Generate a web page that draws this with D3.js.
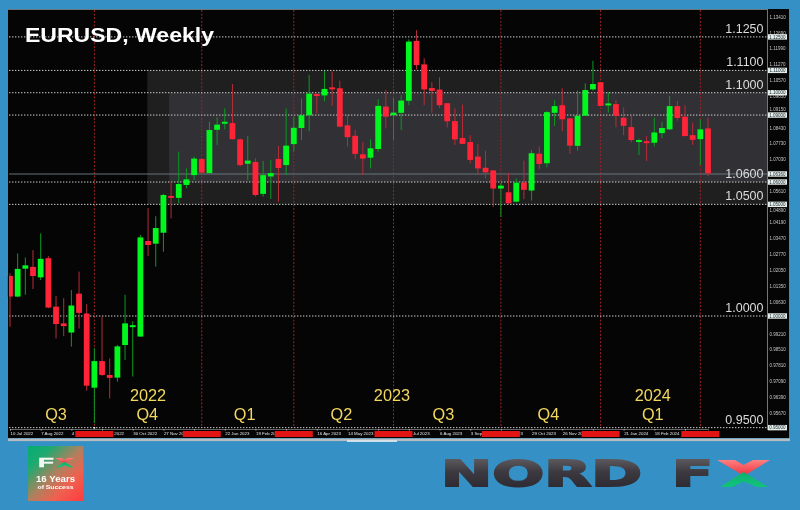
<!DOCTYPE html>
<html><head><meta charset="utf-8">
<script src="https://cdn.jsdelivr.net/npm/d3@7"></script>
<style>html,body{margin:0;padding:0;background:#3590c5;overflow:hidden}svg{display:block;filter:blur(0.35px)}text{font-family:"Liberation Sans",Arial,sans-serif}</style>
</head><body><svg id="c" width="800" height="510"></svg>
<script>
const opens=[1.0179,1.0087,1.0212,1.0220,1.0173,1.0259,1.0042,0.9967,0.9926,1.0100,1.0011,0.9679,0.9798,0.9736,0.9724,0.9870,0.9952,0.9908,1.0336,1.0324,1.0373,1.0538,1.0529,1.0587,1.0631,1.0703,1.0640,1.0834,1.0863,1.0864,1.0791,1.0682,1.0690,1.0547,1.0625,1.0703,1.0676,1.0770,1.0842,1.0899,1.0994,1.0988,1.1024,1.1020,1.0854,1.0807,1.0724,1.0709,1.0748,1.0938,1.0899,1.0910,1.0964,1.1232,1.1127,1.1021,1.1014,1.0953,1.0873,1.0797,1.0779,1.0714,1.0664,1.0652,1.0571,1.0554,1.0512,1.0598,1.0562,1.0727,1.0684,1.0910,1.0944,1.0885,1.0762,1.0897,1.1015,1.1047,1.0946,1.0949,1.0888,1.0846,1.0783,1.0783,1.0776,1.0819,1.0836,1.0940,1.0893,1.0810,1.0792,1.0840];
const highs=[1.0191,1.0280,1.0262,1.0295,1.0370,1.0268,1.0090,1.0080,1.0116,1.0199,1.0054,0.9855,0.9997,0.9810,0.9870,1.0095,0.9977,1.0363,1.0483,1.0447,1.0547,1.0601,1.0736,1.0661,1.0714,1.0706,1.0870,1.0890,1.0930,1.1039,1.0795,1.0806,1.0706,1.0694,1.0699,1.0762,1.0930,1.0893,1.0974,1.1080,1.0997,1.1097,1.1095,1.1054,1.0899,1.0833,1.0780,1.0791,1.0971,1.1012,1.0977,1.0989,1.1239,1.1280,1.1154,1.1047,1.1069,1.0954,1.0930,1.0947,1.0810,1.0769,1.0741,1.0654,1.0595,1.0642,1.0616,1.0696,1.0744,1.0759,1.0918,1.0967,1.1020,1.0887,1.1009,1.1042,1.1143,1.1048,1.1002,1.0967,1.0934,1.0899,1.0795,1.0806,1.0888,1.0870,1.0986,1.0964,1.0944,1.0866,1.0881,1.0888];
const lows=[0.9952,1.0084,1.0095,1.0121,1.0161,1.0035,0.9899,0.9910,0.9863,0.9944,0.9666,0.9520,0.9732,0.9631,0.9706,0.9803,0.9729,0.9907,1.0268,1.0221,1.0288,1.0437,1.0505,1.0572,1.0609,1.0639,1.0639,1.0766,1.0836,1.0791,1.0669,1.0609,1.0535,1.0535,1.0524,1.0512,1.0631,1.0736,1.0788,1.0828,1.0907,1.0962,1.0940,1.0845,1.0759,1.0702,1.0631,1.0661,1.0736,1.0840,1.0788,1.0833,1.0944,1.1104,1.0944,1.0910,1.0932,1.0845,1.0766,1.0770,1.0684,1.0631,1.0616,1.0489,1.0444,1.0502,1.0509,1.0523,1.0517,1.0657,1.0666,1.0851,1.0828,1.0726,1.0741,1.0896,1.1009,1.0940,1.0911,1.0845,1.0810,1.0777,1.0721,1.0694,1.0759,1.0795,1.0834,1.0875,1.0804,1.0766,1.0676,1.0627];
const closes=[1.0087,1.0211,1.0227,1.0179,1.0256,1.0038,0.9964,0.9955,1.0047,1.0014,0.9688,0.9798,0.9736,0.9723,0.9864,0.9967,0.9959,1.0352,1.0318,1.0394,1.0542,1.0529,1.0591,1.0612,1.0705,1.0642,1.0833,1.0857,1.0870,1.0792,1.0676,1.0696,1.0542,1.0631,1.0640,1.0663,1.0763,1.0843,1.0899,1.0996,1.0986,1.1017,1.1017,1.0848,1.0801,1.0726,1.0705,1.0751,1.0941,1.0893,1.0911,1.0965,1.1229,1.1124,1.1015,1.1008,1.0944,1.0872,1.0791,1.0771,1.0699,1.0661,1.0643,1.0571,1.0584,1.0505,1.0597,1.0565,1.0729,1.0681,1.0913,1.0940,1.0881,1.0763,1.0897,1.1012,1.1039,1.0941,1.0952,1.0897,1.0852,1.0788,1.0788,1.0776,1.0822,1.0842,1.0940,1.0887,1.0806,1.0789,1.0836,1.0639];
const keyLevels=[1.125,1.11,1.10,1.09,1.06,1.05,1.00,0.95];
const labelledLevels=[1.125,1.11,1.10,1.06,1.05,1.00,0.95];
const currentPrice=1.0636;
const priceTicks=[1.1341,1.1269,1.1199,1.1127,1.1057,1.0985,1.0915,1.0843,1.0773,1.0703,1.0561,1.0489,1.0419,1.0347,1.0277,1.0205,1.0135,1.0063,0.9921,0.9851,0.9781,0.9709,0.9639,0.9567];
const boxedTicks=[1.125,1.11,1.10,1.09,1.0636,1.06,1.05,1.00,0.95];
const dateLabels=["10 Jul 2022","7 Aug 2022","4 Sep 2022","2 Oct 2022","30 Oct 2022","27 Nov 2022","25 Dec 2022","22 Jan 2023","19 Feb 2023","19 Mar 2023","16 Apr 2023","14 May 2023","11 Jun 2023","9 Jul 2023","6 Aug 2023","3 Sep 2023","1 Oct 2023","29 Oct 2023","26 Nov 2023","24 Dec 2023","21 Jan 2024","18 Feb 2024","17 Mar 2024"];
const quarterBreaks=[11,25,37,50,64,77,90];
const zoneOuter=[1.05,1.11], zoneInner=[1.06,1.10];
const periodLabels=[["Q3",6,420],["Q4",17.9,420],["Q1",30.6,420],["Q2",43.2,420],["Q3",56.5,420],["Q4",70.2,420],["Q1",83.8,420],["2022",18,401],["2023",49.8,401],["2024",83.8,401]];

const svg=d3.select("#c");
const x=d3.scaleLinear().domain([0,91]).range([10,708]);
const y=d3.scaleLinear().domain([0.95,1.125]).range([427.65,36.9]);
const PL=9,PR=767,PT=10,PB=430,AR=789,XB=438;
const defs=svg.append("defs");
function grad(id,x2,y2,stops){const g=defs.append("linearGradient").attr("id",id).attr("x1",0).attr("y1",0).attr("x2",x2).attr("y2",y2);stops.forEach(s=>g.append("stop").attr("offset",s[0]).attr("stop-color",s[1]));}
grad("sq",1,1,[[0,"#03ad73"],[.22,"#1eaa70"],[.5,"#b0805e"],[.72,"#f0604f"],[1,"#ff3a40"]]);
grad("nord",0,1,[[0,"#6b686c"],[.45,"#3c3940"],[1,"#27252e"]]);
grad("xr",0,1,[[0,"#ff8080"],[1,"#f03a44"]]);
grad("xg",0,1,[[0,"#0fb06f"],[1,"#10c47a"]]);

svg.append("rect").attr("width",800).attr("height",510).attr("fill","#3590c5");
svg.append("rect").attr("x",PL-1).attr("y",PB).attr("width",AR-PL+1).attr("height",XB-PB).attr("fill","#050505");
svg.append("rect").attr("x",PL-1).attr("y",PT-1).attr("width",AR-PL+1).attr("height",PB-PT+2).attr("fill","#050505");
svg.append("rect").attr("x",PL-1).attr("y",XB+.5).attr("width",AR-PL+2).attr("height",2.6).attr("fill","#b9bcbe");
svg.append("line").attr("x1",PL-1).attr("x2",PR).attr("y1",PT-.5).attr("y2",PT-.5).attr("stroke","#6f767b");
svg.append("line").attr("x1",PR+.5).attr("x2",PR+.5).attr("y1",PT-1).attr("y2",XB-8).attr("stroke","#70767a");
svg.append("rect").attr("x",347).attr("y",440.5).attr("width",50).attr("height",1.2).attr("fill","#fff");

svg.append("rect").attr("x",x(17.9)).attr("y",y(zoneOuter[1])).attr("width",PR-x(17.9)).attr("height",y(zoneOuter[0])-y(zoneOuter[1])).attr("fill","#fff").attr("fill-opacity",.105);
svg.append("rect").attr("x",x(20.75)).attr("y",y(zoneInner[1])).attr("width",PR-x(20.75)).attr("height",y(zoneInner[0])-y(zoneInner[1])).attr("fill","#d0d0ff").attr("fill-opacity",.1);

svg.append("g").selectAll("line").data(quarterBreaks).join("line")
 .attr("x1",d=>x(d)).attr("x2",d=>x(d)).attr("y1",PT).attr("y2",PB-2)
 .attr("stroke","#a02226").attr("stroke-width",1).attr("stroke-dasharray","2,1.6");
svg.append("g").selectAll("line").data(keyLevels).join("line")
 .attr("x1",PL).attr("x2",PR).attr("y1",d=>y(d)).attr("y2",d=>y(d))
 .attr("stroke","#d0d0d0").attr("stroke-width",1).attr("stroke-dasharray","1.4,1.6");
svg.append("line").attr("x1",PL).attr("x2",PR).attr("y1",y(currentPrice)).attr("y2",y(currentPrice)).attr("stroke","#66757c").attr("stroke-width",1.2);

const idx=d3.range(opens.length);
const col=i=>closes[i]>=opens[i];
const g=svg.append("g");
g.selectAll("line").data(idx).join("line")
 .attr("x1",x).attr("x2",x).attr("y1",i=>y(highs[i])).attr("y2",i=>Math.min(y(lows[i]),PB-2))
 .attr("stroke",i=>col(i)?"#0c9a22":"#b82c38").attr("stroke-width",1);
g.selectAll("rect").data(idx).join("rect")
 .attr("x",i=>x(i)-2.9).attr("width",5.8)
 .attr("y",i=>y(Math.max(opens[i],closes[i])))
 .attr("height",i=>Math.max(2,Math.abs(y(opens[i])-y(closes[i]))))
 .attr("fill",i=>col(i)?"#00f81e":"#ff2438");
svg.append("rect").attr("x",PL-1).attr("y",PT).attr("width",1).attr("height",PB-PT).attr("fill","#050505");

svg.append("text").attr("x",25).attr("y",42).attr("font-size",21).attr("font-weight","bold").attr("fill","#fff").attr("textLength",189).attr("lengthAdjust","spacingAndGlyphs").text("EURUSD, Weekly");
svg.append("g").selectAll("text").data(labelledLevels).join("text")
 .attr("x",763.5).attr("y",d=>y(d)-4).attr("text-anchor","end").attr("font-size",12.5).attr("fill","#dcdcdc").text(d=>d.toFixed(4));
svg.append("g").selectAll("text").data(periodLabels).join("text")
 .attr("x",d=>x(d[1])).attr("y",d=>d[2]).attr("text-anchor","middle").attr("font-size",16.3).attr("fill","#f2d760").text(d=>d[0]);

const yAxis=svg.append("g").attr("transform",`translate(${PR},0)`).call(d3.axisRight(y).tickValues(priceTicks).tickSize(0).tickPadding(2.5).tickFormat(d3.format(".5f")));
yAxis.select(".domain").remove();
yAxis.selectAll("text").attr("font-size",4.5).attr("fill","#c8c8c8").attr("font-family",'"Liberation Sans"')
 .attr("y",d=>d===1.0915?-3:(d===1.0489?3.5:0));
const boxes=svg.append("g").selectAll("g").data(boxedTicks).join("g").attr("transform",d=>`translate(${PR+1},${y(d)})`);
boxes.append("rect").attr("x",0).attr("y",-2.7).attr("width",19).attr("height",5.4).attr("fill","#e8efe9");
boxes.append("text").attr("x",9.5).attr("y",1.6).attr("text-anchor","middle").attr("font-size",4.5).attr("fill","#123").text(d=>d.toFixed(5));

const xAxis=svg.append("g").attr("transform",`translate(0,${PB-1})`).call(d3.axisBottom(x).tickValues(dateLabels.map((d,i)=>i*4)).tickSize(1.5).tickPadding(1.8).tickFormat(d=>dateLabels[d/4]));
xAxis.select(".domain").attr("stroke","#666");
xAxis.selectAll(".tick line").attr("stroke","#aaa");
xAxis.selectAll("text").attr("text-anchor","start").attr("font-size",4.4).attr("fill","#e4e4e4").attr("font-family",'"Liberation Sans"');
svg.append("g").selectAll("rect").data(quarterBreaks).join("rect")
 .attr("x",d=>x(d)-19).attr("width",38).attr("y",431).attr("height",6).attr("fill","#e21414");
svg.append("rect").attr("x",x(11)-.8).attr("y",427).attr("width",1.6).attr("height",1.6).attr("fill","#fff");

const L=svg.append("g");
L.append("rect").attr("x",28).attr("y",446).attr("width",55.5).attr("height",55).attr("fill","url(#sq)");
L.append("text").attr("x",38).attr("y",467.3).attr("font-size",13).attr("font-weight","bold").attr("fill","#f4f7f4").attr("textLength",16).attr("lengthAdjust","spacingAndGlyphs").attr("stroke","#f4f7f4").attr("stroke-width",.4).text("F");
const xShape=(gx,sx,sy,x0,y0)=>{
 const m=p=>p.map(q=>[(q[0]-717)*sx+x0,(q[1]-460)*sy+y0].join(",")).join(" ");
 gx.append("polygon").attr("points",m([[717,460],[735,460],[743.5,465],[753,460],[770,460],[747,474],[741,474]])).attr("fill","url(#xr)");
 gx.append("polygon").attr("points",m([[720,487],[743.5,472],[768,487],[757,487],[743.5,481.5],[732,487]])).attr("fill","url(#xg)");
};
xShape(L,.36,.34,55,458);
L.append("text").attr("x",55.5).attr("y",482).attr("text-anchor","middle").attr("font-size",9).attr("font-weight","bold").attr("fill","#fff").attr("textLength",39).attr("lengthAdjust","spacingAndGlyphs").text("16 Years");
L.append("text").attr("x",55.5).attr("y",489).attr("text-anchor","middle").attr("font-size",5.6).attr("font-weight","bold").attr("fill","#fff").attr("textLength",36).attr("lengthAdjust","spacingAndGlyphs").text("of Success");

const N=svg.append("g");
N.append("text").attr("x",441).attr("y",486.3).attr("font-size",36).attr("font-weight","bold").style("font-family",'"DejaVu Sans"').attr("fill","url(#nord)").attr("stroke","url(#nord)").attr("stroke-width",1.8).attr("textLength",201).attr("lengthAdjust","spacingAndGlyphs").text("NORD");
N.append("text").attr("x",672).attr("y",486.3).attr("font-size",36).attr("font-weight","bold").style("font-family",'"DejaVu Sans"').attr("fill","url(#nord)").attr("stroke","url(#nord)").attr("stroke-width",1.8).attr("textLength",41).attr("lengthAdjust","spacingAndGlyphs").text("F");
xShape(N,1,1,717,460);
</script></body></html>
